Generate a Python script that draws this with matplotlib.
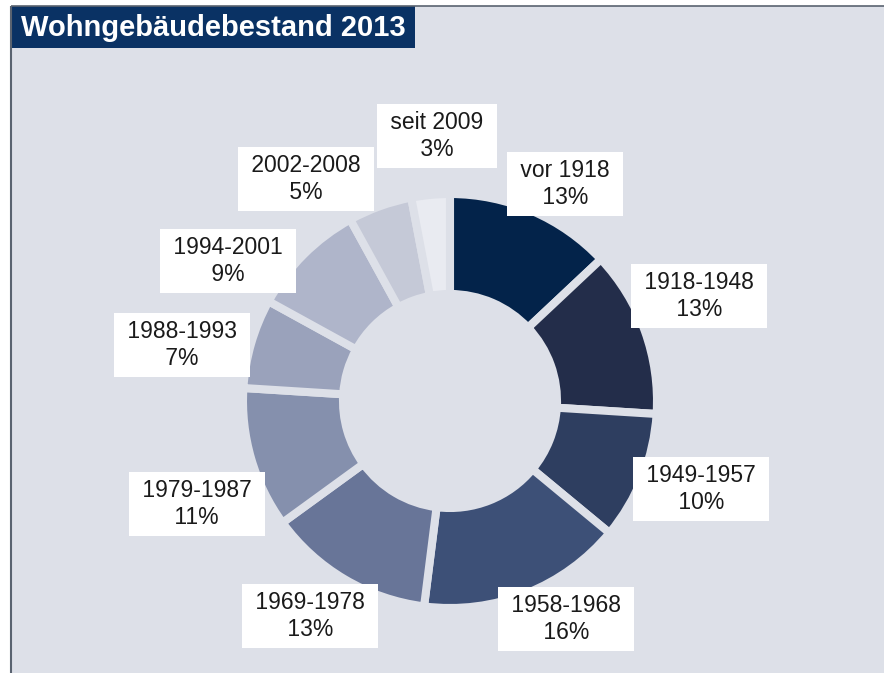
import matplotlib.pyplot as plt
from matplotlib.patches import Rectangle

# Wohngebäudebestand nach Baujahr, Anteile in Prozent
periods = ["vor 1918", "1918-1948", "1949-1957", "1958-1968", "1969-1978",
           "1979-1987", "1988-1993", "1994-2001", "2002-2008", "seit 2009"]
shares = [13, 13, 10, 16, 13, 11, 7, 9, 5, 3]
colors = ["#03234a", "#232d4a", "#2e3e60", "#3d5077", "#687598",
          "#8590ad", "#9aa2bb", "#afb5ca", "#c5c9d7", "#e9ebf1"]

# label box centres in pixels (x from left, y from top)
label_pos = [(565, 184), (699, 296), (701, 489), (566, 619), (310, 616),
             (197, 504), (182, 345), (228, 261), (306, 179), (437, 136)]

PANEL = "#dde0e8"
TITLE_BG = "#0a3264"
FRAME = "#5a6370"
W, H = 884, 673

plt.rcParams["font.family"] = ["Liberation Sans", "DejaVu Sans"]

fig = plt.figure(figsize=(W / 100, H / 100), dpi=100)
fig.patch.set_facecolor("white")

# pixel-space layer for panel, title and labels
bg = fig.add_axes([0, 0, 1, 1])
bg.set_xlim(0, W)
bg.set_ylim(H, 0)
bg.axis("off")
bg.add_patch(Rectangle((11, 6), W, H, facecolor=PANEL, edgecolor="none"))
bg.plot([11, 11], [6, H], color=FRAME, lw=1.5, solid_capstyle="butt")
bg.plot([11, W], [6, 6], color=FRAME, lw=1.2, solid_capstyle="butt")
bg.add_patch(Rectangle((12, 6), 403, 42, facecolor=TITLE_BG, edgecolor="none"))
bg.text(21, 28, "Wohngebäudebestand 2013", color="white", fontsize=21,
        fontweight="bold", ha="left", va="center")

# donut
cx, cy, r = 450, 401, 207
ax = fig.add_axes([(cx - r) / W, (H - cy - r) / H, 2 * r / W, 2 * r / H], zorder=2)
ax.pie(shares, colors=colors, startangle=90, counterclock=False, radius=1,
       wedgeprops=dict(width=0.483, edgecolor=PANEL, linewidth=5.8))
ax.set_xlim(-1, 1)
ax.set_ylim(-1, 1)
ax.axis("off")

txt = fig.add_axes([0, 0, 1, 1], zorder=3)
txt.set_xlim(0, W)
txt.set_ylim(H, 0)
txt.axis("off")
for name, val, (x, y) in zip(periods, shares, label_pos):
    txt.text(x, y, f" {name} \n {val}% ", ha="center", va="center",
             fontsize=16.5, color="#1a1a1a", linespacing=1.2,
             bbox=dict(boxstyle="square,pad=0.3", fc="white", ec="none"))

fig.savefig("out.png", dpi=100, facecolor=fig.get_facecolor())
